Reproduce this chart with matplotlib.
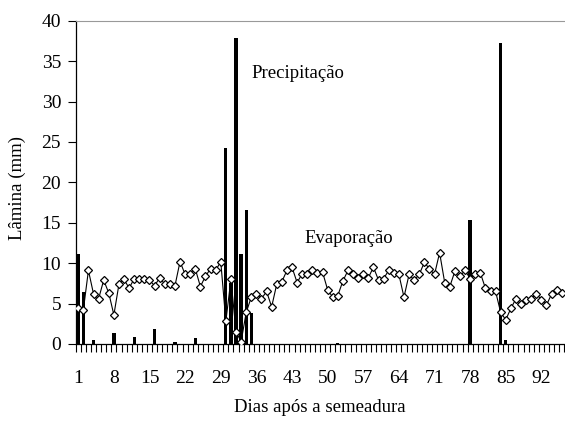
import matplotlib
matplotlib.use("Agg")
import matplotlib.pyplot as plt
import numpy as np

DAYS = np.arange(1, 97)

EVAPORACAO = [
    4.5, 4.2, 9.1, 6.2, 5.6, 7.9, 6.3, 3.6, 7.4, 8.0,
    6.9, 8.1, 8.1, 8.1, 7.9, 7.2, 8.2, 7.4, 7.4, 7.2,
    10.2, 8.6, 8.6, 9.3, 7.1, 8.4, 9.3, 9.1, 10.2, 2.8,
    8.0, 1.5, 0.3, 3.9, 5.8, 6.2, 5.6, 6.5, 4.6, 7.4,
    7.7, 9.1, 9.5, 7.6, 8.7, 8.6, 9.2, 8.8, 8.9, 6.7,
    5.8, 6.0, 7.8, 9.1, 8.6, 8.2, 8.6, 8.2, 9.5, 7.9,
    8.1, 9.1, 8.8, 8.6, 5.8, 8.6, 7.9, 8.6, 10.1, 9.3,
    8.6, 11.3, 7.6, 7.1, 9.0, 8.4, 9.1, 8.1, 8.7, 8.8,
    6.9, 6.5, 6.5, 3.9, 3.0, 4.4, 5.6, 4.9, 5.5, 5.6,
    6.2, 5.5, 4.8, 6.2, 6.7, 6.3,
]

# dias com chuva registrada
RAIN_DAYS = [1, 2, 4, 8, 12, 16, 20, 24, 30, 31, 32, 33, 34, 35, 52, 78, 84, 85]
RAIN_MM = [11.1, 6.4, 0.5, 1.4, 0.9, 1.9, 0.2, 0.7, 24.2, 7.5, 37.9, 11.1,
           16.6, 3.8, 0.15, 15.4, 37.2, 0.5]

XTICKS = list(range(1, 97, 7))
YTICKS = list(range(0, 41, 5))

plt.rcParams['font.family'] = ['Liberation Serif', 'DejaVu Serif']

fig = plt.figure(figsize=(5.65, 4.30), dpi=100)
ax = fig.add_axes([75.7 / 565, 1 - 344 / 430, (564.3 - 75.7) / 565, (344 - 20.7) / 430])

precip = np.zeros(len(DAYS))
precip[np.array(RAIN_DAYS) - 1] = RAIN_MM
ax.bar(DAYS, precip, width=0.65, color='black', zorder=2)
ax.plot(DAYS, EVAPORACAO, color='black', lw=0.8, marker='D', ms=3.6,
        mfc='white', mec='black', mew=0.9, zorder=3)

ax.set_xlim(0.5, 96.5)
ax.set_ylim(0, 40)

ax.set_xticks(XTICKS)
ax.set_xticklabels([str(t) for t in XTICKS])
ax.set_xticks(np.arange(0.5, 97, 1.0), minor=True)
ax.tick_params(axis='x', which='major', length=0, pad=19, labelsize=14)
ax.tick_params(axis='x', which='minor', length=5.5, width=0.8, direction='out')
ax.set_yticks(YTICKS)
ax.tick_params(axis='y', length=5.5, width=0.8, pad=5, labelsize=14)

ax.spines['right'].set_visible(False)
ax.spines['top'].set_color('#999999')
ax.spines['left'].set_linewidth(0.9)
ax.spines['bottom'].set_linewidth(0.9)

ax.text(35.1, 33.5, 'Precipitação', fontsize=13.5, va='center', ha='left')
ax.text(45.5, 13.0, 'Evaporação', fontsize=13.5, va='center', ha='left')

fig.text(17 / 565, 1 - 188 / 430, 'Lâmina (mm)', rotation=90, fontsize=13.5,
         ha='center', va='center')
fig.text(320 / 565, 1 - 408 / 430, 'Dias após a semeadura', fontsize=13.5,
         ha='center', va='center')

fig.savefig('out.png', dpi=100)
